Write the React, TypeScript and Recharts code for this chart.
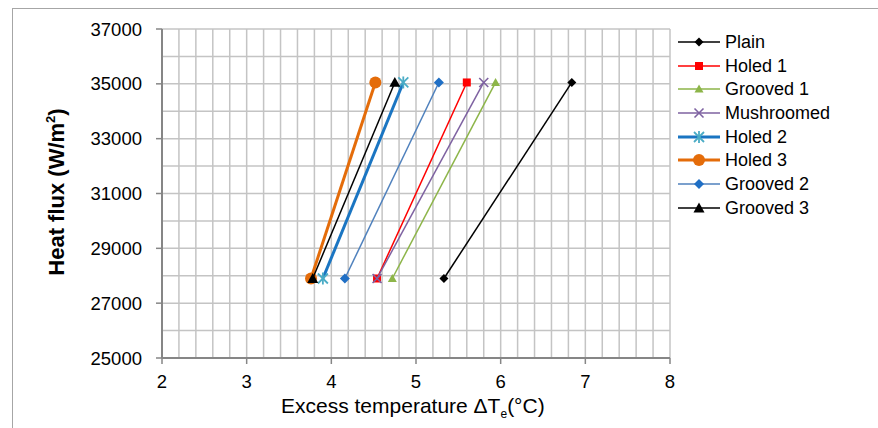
import { CartesianGrid, Scatter, ScatterChart, XAxis, YAxis } from "recharts";

// Two measured points per surface: low and high heat flux
const heatFlux = [27900, 35050];
const plain = [5.33, 6.84];
const holed1 = [4.54, 5.6];
const grooved1 = [4.72, 5.94];
const mushroomed = [4.54, 5.8];
const holed2 = [3.9, 4.85];
const holed3 = [3.76, 4.52];
const grooved2 = [4.16, 5.27];
const grooved3 = [3.78, 4.75];

const xLabels = [2, 3, 4, 5, 6, 7, 8];
const yLabels = [25000, 27000, 29000, 31000, 33000, 35000, 37000];

// grid steps (not data): 0.2 on x, 1000 on y
const xGrid = Array.from({ length: 31 }, (_, i) => Math.round((2 + i * 0.2) * 10) / 10);
const yGrid = Array.from({ length: 13 }, (_, i) => 25000 + i * 1000);

type MarkerKind = "diamond" | "square" | "triangle" | "x" | "star" | "circle";

type Series = {
  name: string;
  xs: number[];
  color: string;
  markerColor: string;
  marker: MarkerKind;
  size: number;
  width: number;
};

const series: Series[] = [
  { name: "Plain", xs: plain, color: "#000000", markerColor: "#000000", marker: "diamond", size: 9, width: 1.5 },
  { name: "Holed 1", xs: holed1, color: "#FF0000", markerColor: "#FF0000", marker: "square", size: 8, width: 1.5 },
  { name: "Grooved 1", xs: grooved1, color: "#8DB549", markerColor: "#8DB549", marker: "triangle", size: 9, width: 1.5 },
  { name: "Mushroomed", xs: mushroomed, color: "#7E62A1", markerColor: "#7E62A1", marker: "x", size: 9, width: 1.5 },
  { name: "Holed 2", xs: holed2, color: "#1A75C2", markerColor: "#4BACC6", marker: "star", size: 10, width: 3 },
  { name: "Holed 3", xs: holed3, color: "#E46C0A", markerColor: "#E46C0A", marker: "circle", size: 12, width: 3 },
  { name: "Grooved 2", xs: grooved2, color: "#4F81BD", markerColor: "#1F6FC5", marker: "diamond", size: 10, width: 1.5 },
  { name: "Grooved 3", xs: grooved3, color: "#000000", markerColor: "#000000", marker: "triangle", size: 11, width: 1.5 },
];

function Marker({ cx, cy, kind, size, color }: { cx: number; cy: number; kind: MarkerKind; size: number; color: string }) {
  const r = size / 2;
  switch (kind) {
    case "diamond":
      return <polygon points={`${cx},${cy - r} ${cx + r},${cy} ${cx},${cy + r} ${cx - r},${cy}`} fill={color} />;
    case "square":
      return <rect x={cx - r} y={cy - r} width={size} height={size} fill={color} />;
    case "triangle":
      return <polygon points={`${cx},${cy - r} ${cx + r},${cy + r * 0.8} ${cx - r},${cy + r * 0.8}`} fill={color} />;
    case "circle":
      return <circle cx={cx} cy={cy} r={r} fill={color} />;
    case "x":
      return (
        <g stroke={color} strokeWidth={1.6}>
          <line x1={cx - r} y1={cy - r} x2={cx + r} y2={cy + r} />
          <line x1={cx - r} y1={cy + r} x2={cx + r} y2={cy - r} />
        </g>
      );
    case "star":
      return (
        <g stroke={color} strokeWidth={1.8}>
          <line x1={cx - r} y1={cy - r} x2={cx + r} y2={cy + r} />
          <line x1={cx - r} y1={cy + r} x2={cx + r} y2={cy - r} />
          <line x1={cx} y1={cy - r - 1} x2={cx} y2={cy + r + 1} />
        </g>
      );
  }
  return null;
}

function XTick(props: any) {
  const { x, y, payload } = props;
  const v = payload.value;
  if (!xLabels.includes(v)) return null;
  return (
    <g>
      <line x1={x} y1={y - 8} x2={x} y2={y - 2} stroke="#868686" strokeWidth={1.5} />
      <text x={x} y={y + 22} textAnchor="middle" fontSize={18.5} fill="#000">
        {v}
      </text>
    </g>
  );
}

function YTick(props: any) {
  const { x, y, payload } = props;
  const v = payload.value;
  if (!yLabels.includes(v)) return null;
  return (
    <g>
      <line x1={x + 2} y1={y} x2={x + 8} y2={y} stroke="#868686" strokeWidth={1.5} />
      <text x={x - 12} y={y + 6.5} textAnchor="end" fontSize={18.5} fill="#000">
        {v}
      </text>
    </g>
  );
}

function LegendBox() {
  return (
    <div style={{ position: "absolute", left: 677, top: 30, fontFamily: "'Liberation Sans', Arial, sans-serif" }}>
      {series.map((s) => (
        <div key={s.name} style={{ display: "flex", alignItems: "center", height: 23.7 }}>
          <svg width={44} height={16} style={{ display: "block" }}>
            <line x1={1} y1={8} x2={43} y2={8} stroke={s.color} strokeWidth={s.width} />
            <Marker cx={22} cy={8} kind={s.marker} size={s.size} color={s.markerColor} />
          </svg>
          <span style={{ fontSize: 18, marginLeft: 4, color: "#000", lineHeight: "18px" }}>{s.name}</span>
        </div>
      ))}
    </div>
  );
}

export default function App() {
  return (
    <div
      style={{
        position: "absolute",
        left: 0,
        top: 0,
        width: 878,
        height: 428,
        background: "#fff",
        overflow: "hidden",
        fontFamily: "'Liberation Sans', Arial, sans-serif",
      }}
    >
      <div
        style={{
          position: "absolute",
          left: 12,
          top: 8,
          width: 900,
          height: 500,
          borderLeft: "1.5px solid #A6A6A6",
          borderTop: "1.5px solid #A6A6A6",
        }}
      />
      <ScatterChart
        width={878}
        height={428}
        margin={{ top: 29, right: 208, bottom: 40, left: 12 }}
        style={{ position: "absolute", left: 0, top: 0 }}
      >
        <CartesianGrid stroke="#C4C4C4" strokeWidth={1.5} />
        <XAxis
          type="number"
          dataKey="x"
          domain={[2, 8]}
          ticks={xGrid}
          interval={0}
          allowDataOverflow
          height={30}
          tick={<XTick />}
          tickLine={false}
          axisLine={{ stroke: "#868686", strokeWidth: 2 }}
        />
        <YAxis
          type="number"
          dataKey="y"
          domain={[25000, 37000]}
          ticks={yGrid}
          interval={0}
          allowDataOverflow
          width={150}
          tick={<YTick />}
          tickLine={false}
          axisLine={{ stroke: "#868686", strokeWidth: 2 }}
        />
        {series.map((s) => (
          <Scatter
            key={s.name}
            name={s.name}
            data={s.xs.map((x, i) => ({ x, y: heatFlux[i] }))}
            line={{ stroke: s.color, strokeWidth: s.width }}
            lineType="joint"
            isAnimationActive={false}
            shape={(p: any) => <Marker cx={p.cx} cy={p.cy} kind={s.marker} size={s.size} color={s.markerColor} />}
          />
        ))}
      </ScatterChart>
      <div
        style={{
          position: "absolute",
          left: 54,
          top: 192,
          transform: "translate(-50%, -50%) rotate(-90deg)",
          whiteSpace: "nowrap",
          fontSize: 22,
          fontWeight: "bold",
          color: "#000",
          lineHeight: "24px",
        }}
      >
        Heat flux (W/m<sup style={{ fontSize: 13 }}>2</sup>)
      </div>
      <div
        style={{
          position: "absolute",
          left: 281,
          top: 395,
          whiteSpace: "nowrap",
          fontSize: 21,
          color: "#000",
          lineHeight: "22px",
        }}
      >
        Excess temperature ΔT<sub style={{ fontSize: 12 }}>e</sub>(°C)
      </div>
      <LegendBox />
    </div>
  );
}
